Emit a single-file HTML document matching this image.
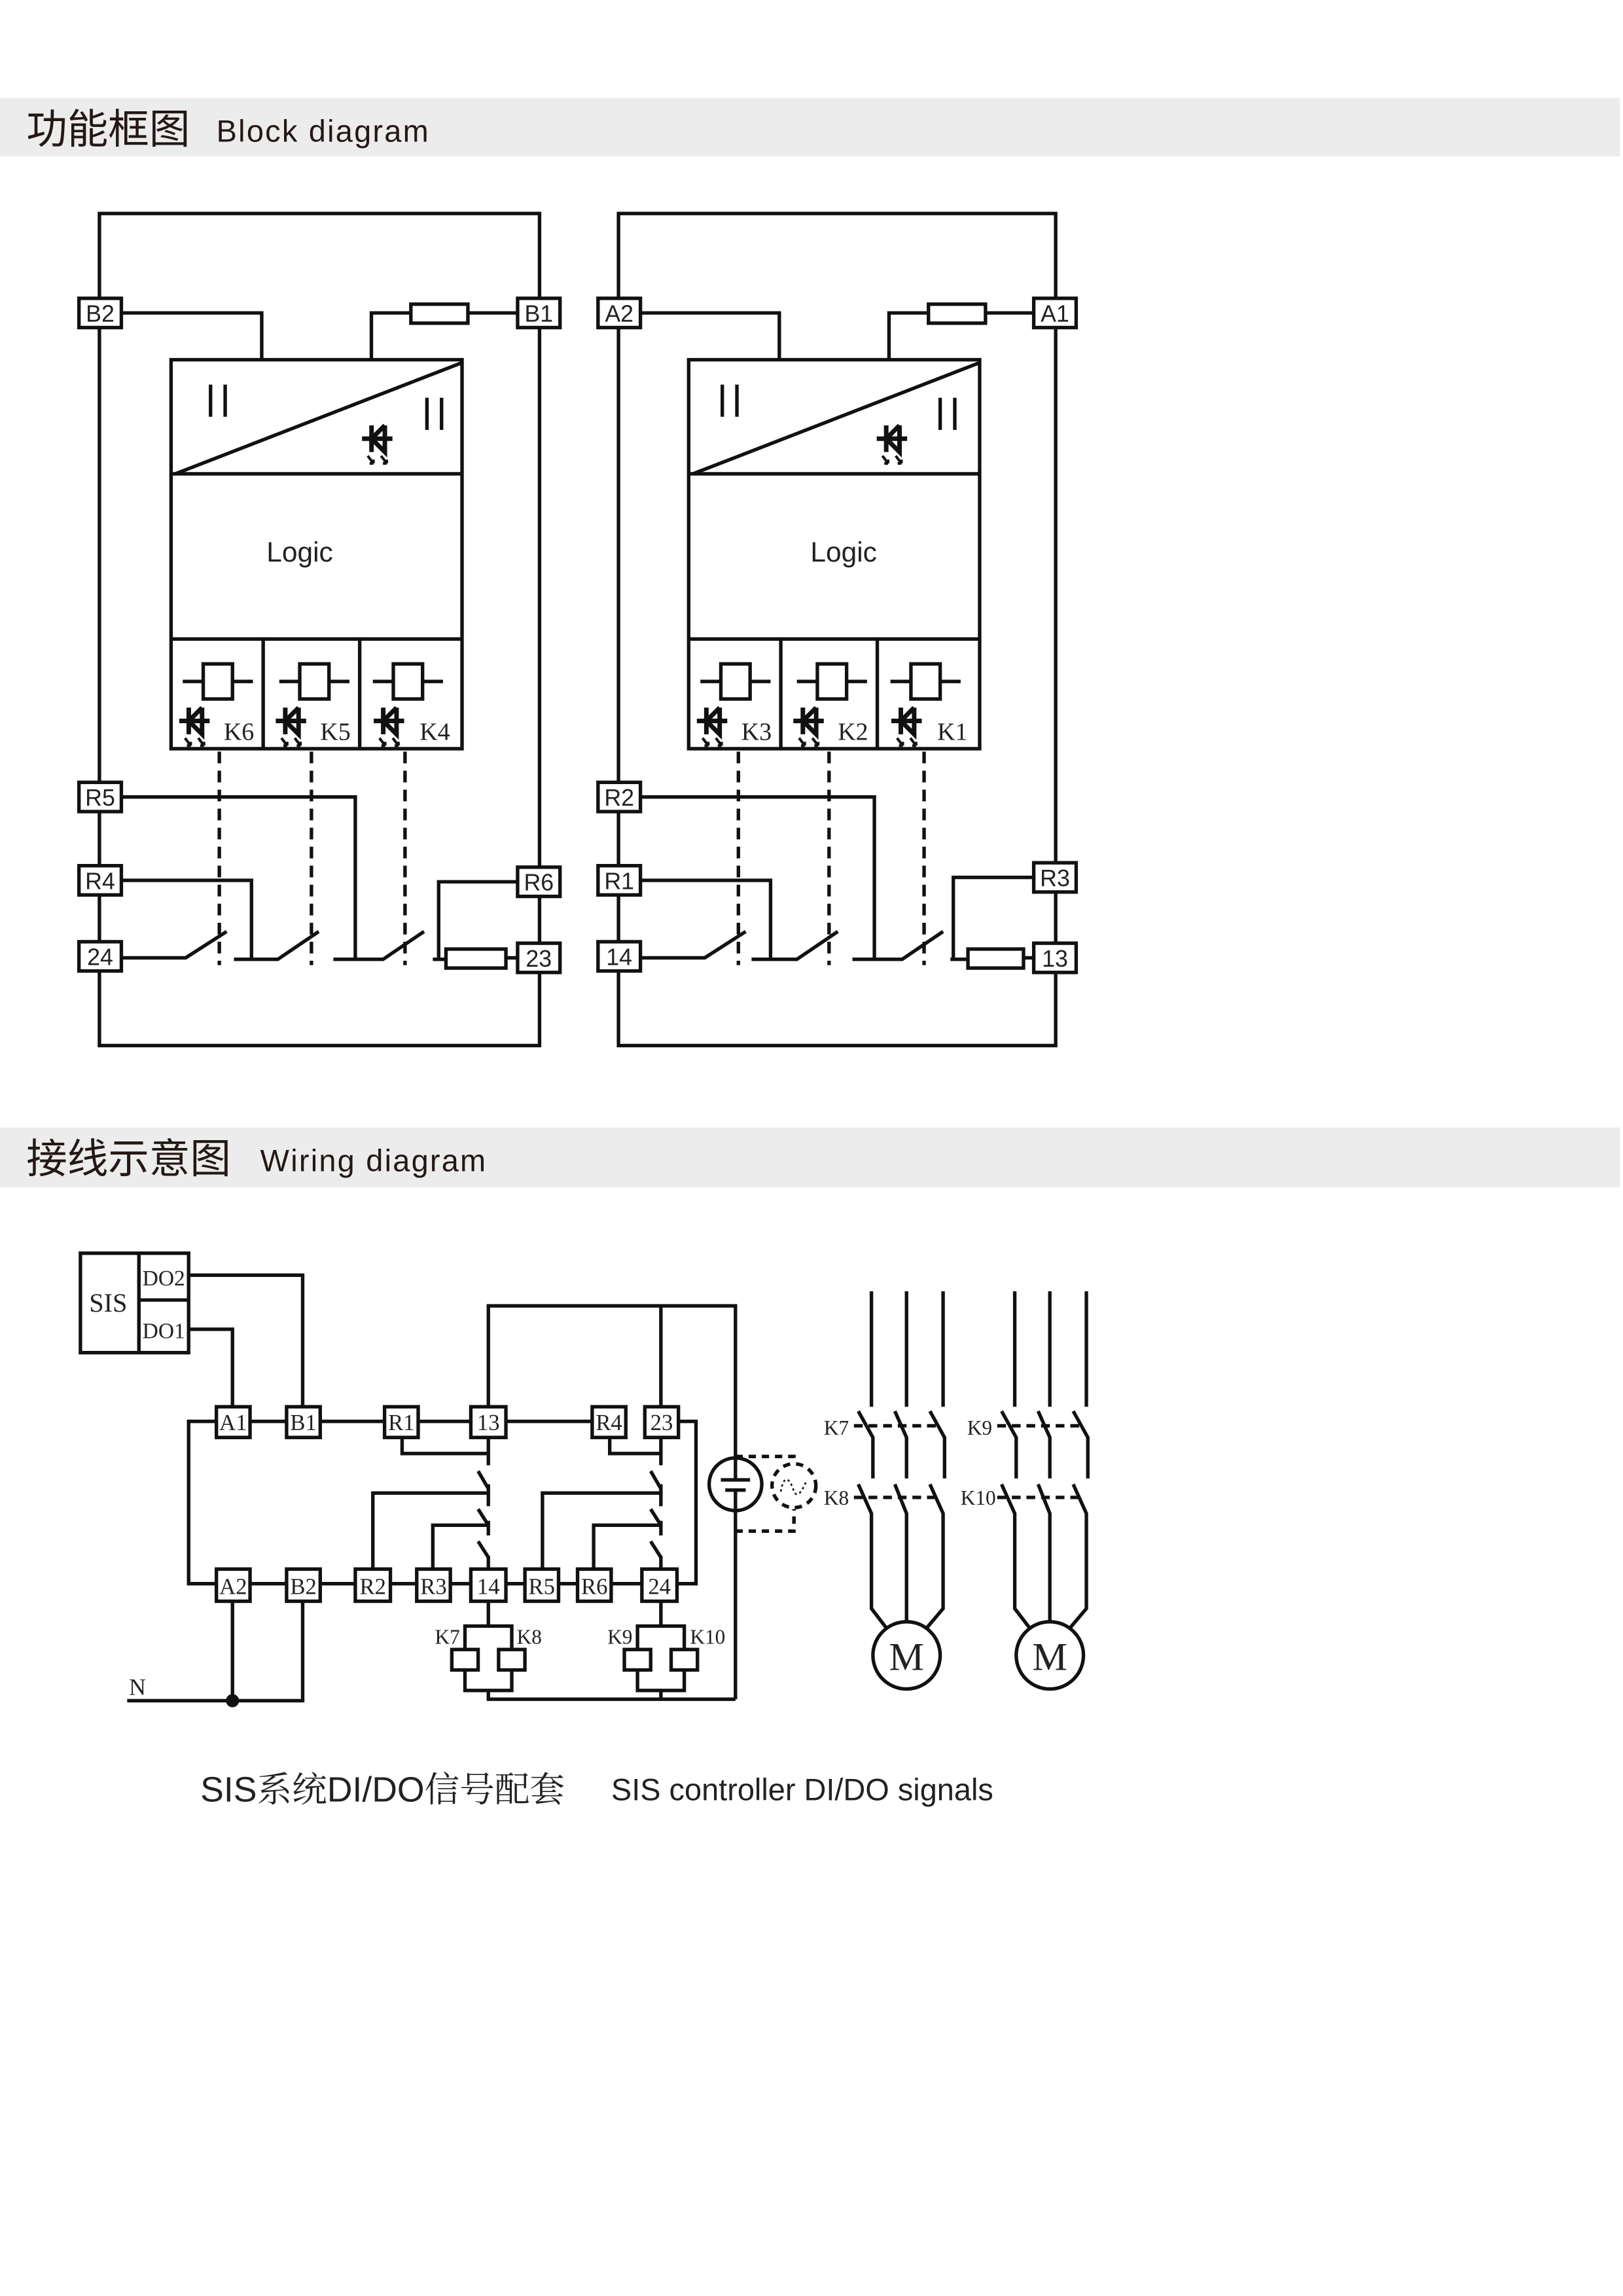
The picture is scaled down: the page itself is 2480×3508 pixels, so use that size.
<!DOCTYPE html>
<html><head><meta charset="utf-8"><style>
html,body{margin:0;padding:0;background:#fff}
svg{display:block}
.s{font-family:"Liberation Sans",sans-serif}
.r{font-family:"Liberation Serif",serif}
</style></head><body>
<svg width="2480" height="3508" viewBox="0 0 1110 1570.1" preserveAspectRatio="none" xmlns="http://www.w3.org/2000/svg">
<defs>
<g id="led" transform="scale(1.3)">
 <line x1="-8" y1="0" x2="8" y2="0"/>
 <line x1="-3" y1="-7" x2="-3" y2="7"/>
 <polyline points="4,-7 -3,0 4,7 4,-7" fill="none"/>
 <path d="M-5,9 l3,4 M-2,13 l0,-2 M-2,13 l-2,0 M2,9 l3,4 M5,13 l0,-2 M5,13 l-2,0" stroke-width="1.4"/>
</g>
<g id="coil">
 <line x1="-24" y1="0" x2="24" y2="0"/>
 <rect x="-10" y="-12" width="20" height="24" fill="#fff"/>
</g>
</defs>
<rect x="0" y="67" width="1108" height="40" fill="#ececec"/>
<text x="18" y="98" font-size="28" fill="#231815" font-family="'Noto Sans CJK SC',sans-serif">功能框图</text>
<text x="148" y="97" font-size="21" fill="#231815" class="s" letter-spacing="1">Block diagram</text>
<rect x="0" y="771" width="1108" height="41" fill="#ececec"/>
<text x="18" y="802" font-size="28" fill="#231815" font-family="'Noto Sans CJK SC',sans-serif">接线示意图</text>
<text x="178" y="801" font-size="21" fill="#231815" class="s" letter-spacing="1">Wiring diagram</text>

<g stroke="#111" stroke-width="2.4" fill="none">
<rect x="68" y="146" width="301" height="569"/>
<rect x="423" y="146" width="299" height="569"/>

<polyline points="84,214 179,214 179,246"/>
<polyline points="354,214 320,214"/>
<rect x="281" y="208" width="39" height="13" fill="#fff"/>
<polyline points="281,214 254,214 254,246"/>
<rect x="117" y="246" width="199" height="266" fill="#fff"/>
<line x1="117" y1="324" x2="316" y2="324"/>
<line x1="120" y1="324" x2="316" y2="248"/>
<line x1="117" y1="437" x2="316" y2="437"/>
<line x1="180" y1="437" x2="180" y2="512"/>
<line x1="246" y1="437" x2="246" y2="512"/>
<line x1="144" y1="263" x2="144" y2="285"/><line x1="154" y1="263" x2="154" y2="285"/>
<line x1="292" y1="272" x2="292" y2="294"/><line x1="302" y1="272" x2="302" y2="294"/>
<use href="#led" x="258" y="300"/>
<use href="#coil" x="149" y="466"/><use href="#coil" x="215" y="466"/><use href="#coil" x="279" y="466"/>
<use href="#led" x="133" y="493"/><use href="#led" x="199" y="493"/><use href="#led" x="266" y="493"/>
<g stroke-dasharray="8,5"><line x1="150" y1="514" x2="150" y2="660"/><line x1="213" y1="514" x2="213" y2="660"/><line x1="277" y1="514" x2="277" y2="660"/></g>
<polyline points="84,545 243,545 243,656"/>
<polyline points="84,602 172,602 172,656"/>
<polyline points="84,655 127,655 155,637"/>
<polyline points="160,656 190,656 218,637"/>
<polyline points="228,656 262,656 290,637"/>
<polyline points="296,656 305,656"/>
<polyline points="354,603 300,603 300,656"/>
<rect x="305" y="649" width="41" height="13" fill="#fff"/>
<line x1="346" y1="655" x2="354" y2="655"/>

<polyline points="439,214 533,214 533,246"/>
<polyline points="707,214 674,214"/>
<rect x="635" y="208" width="39" height="13" fill="#fff"/>
<polyline points="635,214 608,214 608,246"/>
<rect x="471" y="246" width="199" height="266" fill="#fff"/>
<line x1="471" y1="324" x2="670" y2="324"/>
<line x1="474" y1="324" x2="670" y2="248"/>
<line x1="471" y1="437" x2="670" y2="437"/>
<line x1="534" y1="437" x2="534" y2="512"/>
<line x1="600" y1="437" x2="600" y2="512"/>
<line x1="494" y1="263" x2="494" y2="285"/><line x1="504" y1="263" x2="504" y2="285"/>
<line x1="643" y1="272" x2="643" y2="294"/><line x1="653" y1="272" x2="653" y2="294"/>
<use href="#led" x="610" y="300"/>
<use href="#coil" x="503" y="466"/><use href="#coil" x="569" y="466"/><use href="#coil" x="633" y="466"/>
<use href="#led" x="487" y="493"/><use href="#led" x="553" y="493"/><use href="#led" x="620" y="493"/>
<g stroke-dasharray="8,5"><line x1="505" y1="514" x2="505" y2="660"/><line x1="567" y1="514" x2="567" y2="660"/><line x1="632" y1="514" x2="632" y2="660"/></g>
<polyline points="439,545 598,545 598,656"/>
<polyline points="439,602 527,602 527,656"/>
<polyline points="439,655 482,655 510,637"/>
<polyline points="514,656 545,656 573,637"/>
<polyline points="583,656 617,656 645,637"/>
<polyline points="650,656 662,656"/>
<polyline points="707,600 652,600 652,656"/>
<rect x="662" y="649" width="38" height="13" fill="#fff"/>
<line x1="700" y1="655" x2="707" y2="655"/>

<g fill="#fff">
<rect x="54" y="204" width="29" height="20"/><rect x="354" y="204" width="29" height="20"/>
<rect x="409" y="204" width="29" height="20"/><rect x="707" y="204" width="29" height="20"/>
<rect x="54" y="535" width="29" height="20"/><rect x="54" y="592" width="29" height="20"/><rect x="54" y="644" width="29" height="20"/>
<rect x="354" y="593" width="29" height="20"/><rect x="354" y="645" width="29" height="20"/>
<rect x="409" y="535" width="29" height="20"/><rect x="409" y="592" width="29" height="20"/><rect x="409" y="644" width="29" height="20"/>
<rect x="707" y="590" width="29" height="20"/><rect x="707" y="645" width="29" height="20"/>
</g>
</g>
<g class="s" font-size="16" fill="#222" text-anchor="middle">
<text x="68.5" y="220">B2</text><text x="368.5" y="220">B1</text><text x="423.5" y="220">A2</text><text x="721.5" y="220">A1</text>
<text x="68.5" y="551">R5</text><text x="68.5" y="608">R4</text><text x="68.5" y="660">24</text>
<text x="368.5" y="609">R6</text><text x="368.5" y="661">23</text>
<text x="423.5" y="551">R2</text><text x="423.5" y="608">R1</text><text x="423.5" y="660">14</text>
<text x="721.5" y="606">R3</text><text x="721.5" y="661">13</text>
<text x="205" y="384" font-size="19">Logic</text><text x="577" y="384" font-size="19">Logic</text>
</g>
<g class="r" font-size="17" fill="#222">
<text x="153" y="506">K6</text><text x="219" y="506">K5</text><text x="287" y="506">K4</text>
<text x="507" y="506">K3</text><text x="573" y="506">K2</text><text x="641" y="506">K1</text>
</g>

<g stroke="#111" stroke-width="2.4" fill="none">
<rect x="55" y="857" width="74" height="68"/>
<line x1="95" y1="857" x2="95" y2="925"/><line x1="95" y1="889" x2="129" y2="889"/>
<polyline points="129,872 207,872 207,962"/>
<polyline points="129,909 159,909 159,962"/>
<line x1="171" y1="972" x2="405" y2="972"/>
<polyline points="148,972 129,972 129,1083 148,1083"/>
<line x1="171" y1="1083" x2="439" y2="1083"/>
<polyline points="464,972 476,972 476,1083 463,1083"/>
<polyline points="334,962 334,893 503,893 503,1162"/>
<line x1="452" y1="893" x2="452" y2="962"/>
<polyline points="275,983 275,994 334,994"/>
<line x1="334" y1="983" x2="334" y2="1002"/>
<line x1="327" y1="1006" x2="334" y2="1018"/>
<polyline points="334,1015 334,1021 255,1021 255,1073"/>
<line x1="334" y1="1021" x2="334" y2="1030"/>
<line x1="327" y1="1032" x2="334" y2="1043"/>
<polyline points="334,1040 334,1043 296,1043 296,1073"/>
<line x1="334" y1="1043" x2="334" y2="1050"/>
<line x1="327" y1="1054" x2="334" y2="1065"/>
<line x1="334" y1="1064" x2="334" y2="1073"/>
<polyline points="417,983 417,994 452,994"/>
<line x1="452" y1="983" x2="452" y2="1002"/>
<line x1="445" y1="1006" x2="452" y2="1018"/>
<polyline points="452,1015 452,1021 371,1021 371,1073"/>
<line x1="452" y1="1021" x2="452" y2="1030"/>
<line x1="445" y1="1032" x2="452" y2="1043"/>
<polyline points="452,1040 452,1043 406,1043 406,1073"/>
<line x1="452" y1="1043" x2="452" y2="1050"/>
<line x1="445" y1="1054" x2="452" y2="1065"/>
<line x1="452" y1="1064" x2="452" y2="1073"/>
<polyline points="334,1095 334,1112"/>
<polyline points="318,1129 318,1112 350,1112 350,1129"/>
<polyline points="318,1141 318,1156 350,1156 350,1141"/>
<rect x="309" y="1128" width="18" height="14"/><rect x="341" y="1128" width="18" height="14"/>
<polyline points="334,1156 334,1162 503,1162"/>
<polyline points="452,1095 452,1112"/>
<polyline points="436,1129 436,1112 468,1112 468,1129"/>
<polyline points="436,1141 436,1156 468,1156 468,1141"/>
<rect x="427" y="1128" width="18" height="14"/><rect x="459" y="1128" width="18" height="14"/>
<line x1="452" y1="1156" x2="452" y2="1162"/>
<polyline points="87,1163 207,1163 207,1095"/>
<line x1="159" y1="1095" x2="159" y2="1163"/>
<circle cx="503" cy="1015" r="18" fill="#fff"/>
<line x1="503" y1="997" x2="503" y2="1012"/>
<line x1="493" y1="1012" x2="513" y2="1012"/>
<line x1="496" y1="1019" x2="510" y2="1019"/>
<line x1="503" y1="1019" x2="503" y2="1033"/>
<g stroke-dasharray="5,4">
<polyline points="503,996 543,996 543,1000"/>
<polyline points="503,1047 543,1047 543,1032"/>
<circle cx="543" cy="1016" r="15"/>
</g>
<path d="M534,1020 C536,1008 540,1010 543,1020 C546,1026 550,1016 552,1012" stroke-width="1.2" stroke-dasharray="1.5,2"/>
<g fill="#fff">
<rect x="148" y="962" width="23" height="21"/><rect x="196" y="962" width="23" height="21"/>
<rect x="263" y="962" width="23" height="21"/><rect x="322" y="962" width="24" height="21"/>
<rect x="405" y="962" width="23" height="21"/><rect x="441" y="962" width="23" height="21"/>
<rect x="148" y="1073" width="23" height="22"/><rect x="196" y="1073" width="23" height="22"/>
<rect x="243" y="1073" width="24" height="22"/><rect x="285" y="1073" width="23" height="22"/>
<rect x="322" y="1073" width="24" height="22"/><rect x="359" y="1073" width="23" height="22"/>
<rect x="395" y="1073" width="23" height="22"/><rect x="439" y="1073" width="24" height="22"/>
</g>
<g id="mot">
<line x1="596" y1="883" x2="596" y2="962"/><line x1="620" y1="883" x2="620" y2="962"/><line x1="645" y1="883" x2="645" y2="962"/>
<path d="M587,965 L597,983 L597,1011 M587,1015 L596,1035 L596,1100 L606,1113"/>
<path d="M612,965 L620,983 L620,1011 M612,1015 L620,1035 L620,1109"/>
<path d="M636,965 L646,983 L646,1011 M636,1015 L645,1035 L645,1100 L634,1113"/>
<circle cx="620" cy="1132" r="23"/>
<g stroke-dasharray="6,4"><line x1="584" y1="975" x2="641" y2="975"/><line x1="584" y1="1024" x2="641" y2="1024"/></g>
</g>
<use href="#mot" x="98"/>
</g>
<circle cx="159" cy="1163" r="4.5" fill="#111"/>
<g class="r" font-size="15.5" fill="#222" text-anchor="middle">
<text x="74" y="897" font-size="18">SIS</text>
<text x="112" y="879" font-size="15">DO2</text><text x="112" y="915" font-size="15">DO1</text>
<text x="159.5" y="978">A1</text><text x="207.5" y="978">B1</text><text x="274.5" y="978">R1</text>
<text x="334" y="978">13</text><text x="416.5" y="978">R4</text><text x="452.5" y="978">23</text>
<text x="159.5" y="1090">A2</text><text x="207.5" y="1090">B2</text><text x="255" y="1090">R2</text>
<text x="296.5" y="1090">R3</text><text x="334" y="1090">14</text><text x="370.5" y="1090">R5</text>
<text x="406.5" y="1090">R6</text><text x="451" y="1090">24</text>
<text x="306" y="1124" font-size="14">K7</text><text x="362" y="1124" font-size="14">K8</text>
<text x="424" y="1124" font-size="14">K9</text><text x="484" y="1124" font-size="14">K10</text>
<text x="94" y="1159" font-size="16">N</text>
<text x="572" y="981" font-size="14">K7</text><text x="572" y="1029" font-size="14">K8</text>
<text x="670" y="981" font-size="14">K9</text><text x="669" y="1029" font-size="14">K10</text>
<text x="620" y="1142" font-size="27">M</text><text x="718" y="1142" font-size="27">M</text>
</g>
<text x="137" y="1232" font-size="24" fill="#222" font-family="'Liberation Sans','Noto Serif CJK SC',sans-serif">SIS<tspan font-family="'Noto Serif CJK SC',serif">系统</tspan>DI/DO<tspan font-family="'Noto Serif CJK SC',serif">信号配套</tspan></text>
<text x="418" y="1231" font-size="21" fill="#222" class="s">SIS controller DI/DO signals</text>
</svg>
</body></html>
